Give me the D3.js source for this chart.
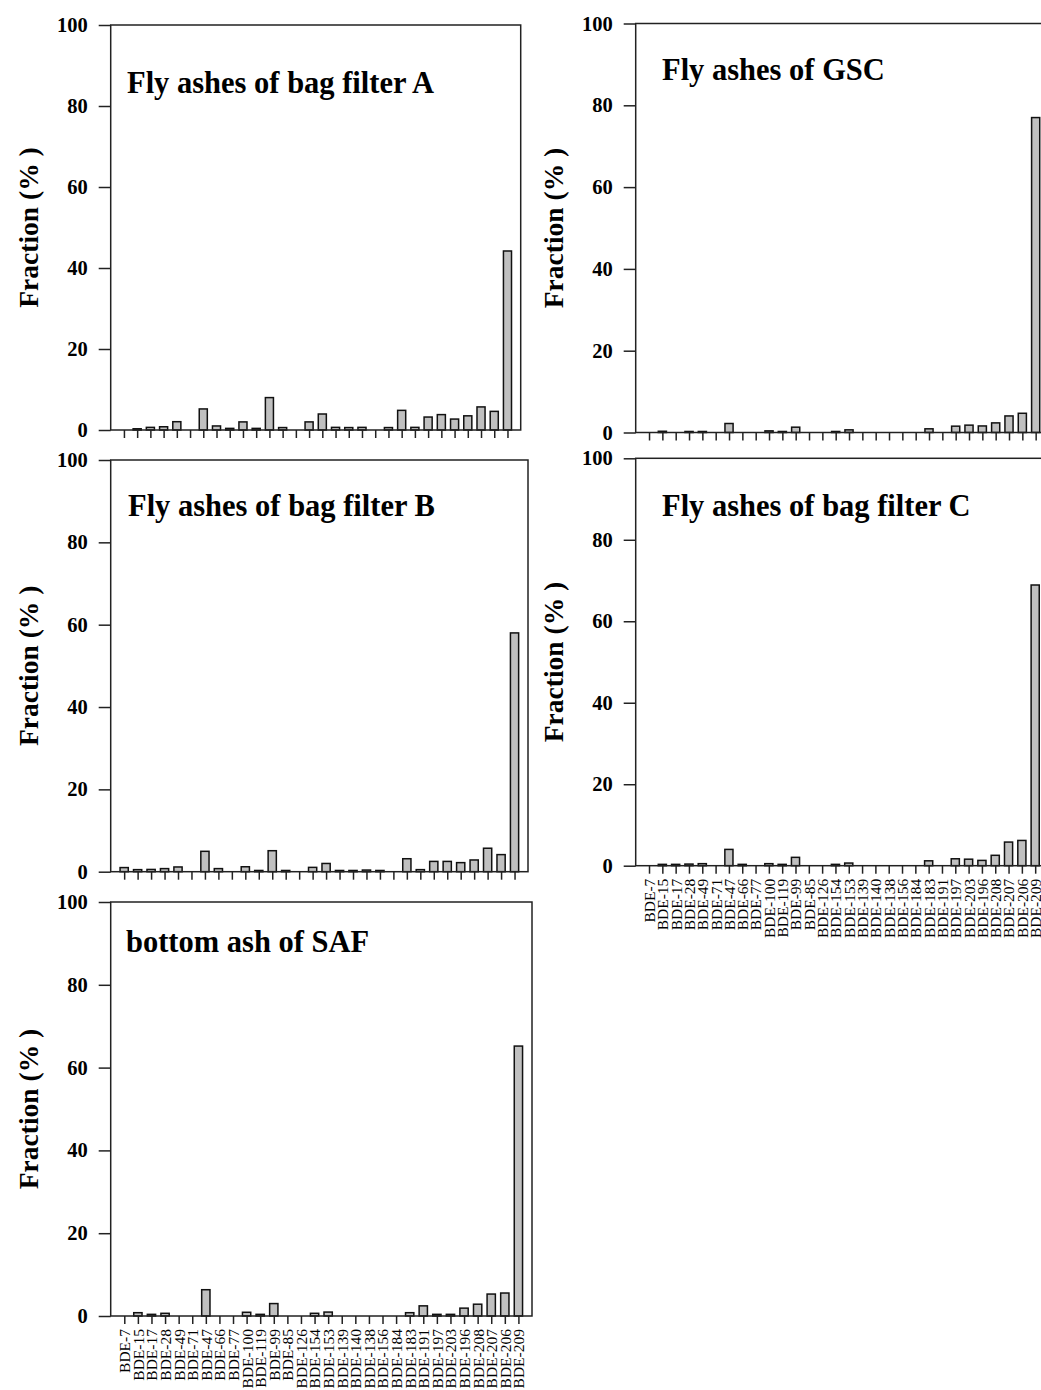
<!DOCTYPE html>
<html>
<head>
<meta charset="utf-8">
<script src="https://cdn.jsdelivr.net/npm/d3@7"></script>
<style>
  body { margin: 0; background: #fff; }
  svg text { font-family: "Liberation Serif", "Times New Roman", serif; fill: #000; }
</style>
</head>
<body>
<div id="chart"></div>
<script>
// Data ///////////////////////////////////////////////
const congeners = ["BDE-7", "BDE-15", "BDE-17", "BDE-28", "BDE-49", "BDE-71", "BDE-47", "BDE-66",
  "BDE-77", "BDE-100", "BDE-119", "BDE-99", "BDE-85", "BDE-126", "BDE-154", "BDE-153", "BDE-139",
  "BDE-140", "BDE-138", "BDE-156", "BDE-184", "BDE-183", "BDE-191", "BDE-197", "BDE-203", "BDE-196",
  "BDE-208", "BDE-207", "BDE-206", "BDE-209"];

const bagFilterA = [0, 0.3, 0.65, 0.8, 2.05, 0, 5.2, 1.0, 0.4, 2.0, 0.4, 8.0, 0.6, 0, 2.0, 3.95, 0.65,
  0.6, 0.65, 0, 0.6, 4.85, 0.65, 3.2, 3.8, 2.7, 3.5, 5.7, 4.6, 44.2];
const gsc = [0, 0.3, 0, 0.25, 0.25, 0, 2.2, 0, 0, 0.4, 0.25, 1.3, 0, 0, 0.25, 0.65, 0,
  0, 0, 0, 0, 0.9, 0, 1.55, 1.8, 1.6, 2.35, 4.05, 4.7, 77];
const bagFilterB = [1.0, 0.5, 0.55, 0.75, 1.15, 0, 4.95, 0.75, 0, 1.2, 0.3, 5.1, 0.3, 0, 1.05, 2.0, 0.3,
  0.3, 0.4, 0.3, 0, 3.15, 0.5, 2.5, 2.5, 2.2, 2.85, 5.7, 4.15, 58];
const bagFilterC = [0, 0.33, 0.33, 0.4, 0.5, 0, 4.0, 0.33, 0, 0.5, 0.33, 2.05, 0, 0, 0.33, 0.65, 0,
  0, 0, 0, 0, 1.2, 0, 1.7, 1.6, 1.3, 2.55, 5.8, 6.2, 68.9];
const bottomAshSAF = [0, 0.8, 0.4, 0.65, 0, 0, 6.35, 0, 0, 0.9, 0.4, 3.0, 0, 0, 0.65, 0.95, 0,
  0, 0, 0, 0, 0.8, 2.45, 0.4, 0.4, 1.9, 2.85, 5.3, 5.55, 65.2];

const yTicks = [0, 20, 40, 60, 80, 100];
const yLabel = "Fraction (% )";

// Layout ///////////////////////////////////////////////
const width = 1041;
const height = 1390;

const panels = [
  { title: "Fly ashes of bag filter A", values: bagFilterA, left: 110.7, right: 520.7, top: 25, bottom: 430,
    titleX: 127, titleY: 93, labelX: 38, showNames: false },
  { title: "Fly ashes of GSC", values: gsc, left: 635.7, right: 1049, top: 23.5, bottom: 432.5,
    titleX: 662, titleY: 80, labelX: 563, showNames: false },
  { title: "Fly ashes of bag filter B", values: bagFilterB, left: 110.7, right: 528, top: 460, bottom: 871.7,
    titleX: 128, titleY: 516, labelX: 38, showNames: false },
  { title: "Fly ashes of bag filter C", values: bagFilterC, left: 635.7, right: 1048.5, top: 458.3, bottom: 865.7,
    titleX: 662, titleY: 516, labelX: 563, showNames: true },
  { title: "bottom ash of SAF", values: bottomAshSAF, left: 110.7, right: 532, top: 902, bottom: 1316,
    titleX: 126, titleY: 952, labelX: 38, showNames: true }
];

const svg = d3.select("#chart")
  .append("svg")
  .attr("width", width)
  .attr("height", height);

const drawPanel = p => {
  const g = svg.append("g");

  const x = d3.scalePoint()
    .domain(congeners)
    .range([p.left, p.right])
    .padding(1);
  const y = d3.scaleLinear()
    .domain([0, 100])
    .range([p.bottom, p.top]);
  const barWidth = x.step() * 0.61;

  // bars
  g.selectAll(".bar")
    .data(congeners.map((c, i) => ({ name: c, value: p.values[i] })).filter(d => d.value > 0))
    .enter()
    .append("rect")
    .attr("class", "bar")
    .attr("x", d => x(d.name) - barWidth / 2)
    .attr("y", d => y(d.value))
    .attr("width", barWidth)
    .attr("height", d => y(0) - y(d.value))
    .style("fill", "#c0c0c0")
    .style("stroke", "#111")
    .style("stroke-width", 1.5);

  // frame
  g.append("rect")
    .attr("x", p.left)
    .attr("y", p.top)
    .attr("width", p.right - p.left)
    .attr("height", p.bottom - p.top)
    .style("fill", "none")
    .style("stroke", "#222")
    .style("stroke-width", 1.5);

  // y axis
  const yAxis = g.append("g")
    .attr("transform", `translate(${p.left},0)`)
    .call(d3.axisLeft(y).tickValues(yTicks).tickSize(12).tickPadding(11));
  yAxis.select(".domain").remove();
  yAxis.selectAll("line").style("stroke", "#222").style("stroke-width", 1.5);
  yAxis.selectAll("text")
    .style("font-family", "'Liberation Serif', serif")
    .style("font-size", "20.5px")
    .style("font-weight", "bold")
    .style("fill", "#000");

  // x axis
  const xAxis = g.append("g")
    .attr("transform", `translate(0,${p.bottom})`)
    .call(d3.axisBottom(x).tickSize(8).tickFormat(d => (p.showNames ? d : "")));
  xAxis.select(".domain").remove();
  xAxis.selectAll("line").style("stroke", "#222").style("stroke-width", 1.5);
  xAxis.selectAll("text")
    .attr("transform", "rotate(-90)")
    .attr("x", -13)
    .attr("y", 0)
    .attr("dy", "0.35em")
    .style("text-anchor", "end")
    .style("font-family", "'Liberation Serif', serif")
    .style("font-size", "15.5px")
    .style("fill", "#000");

  // title
  g.append("text")
    .attr("x", p.titleX)
    .attr("y", p.titleY)
    .style("font-size", "30.5px")
    .style("font-weight", "bold")
    .text(p.title);

  // y label
  g.append("text")
    .attr("transform", `translate(${p.labelX},${(p.top + p.bottom) / 2}) rotate(-90)`)
    .style("text-anchor", "middle")
    .style("font-size", "27.5px")
    .style("font-weight", "bold")
    .text(yLabel);
};

panels.forEach(drawPanel);
</script>
</body>
</html>
